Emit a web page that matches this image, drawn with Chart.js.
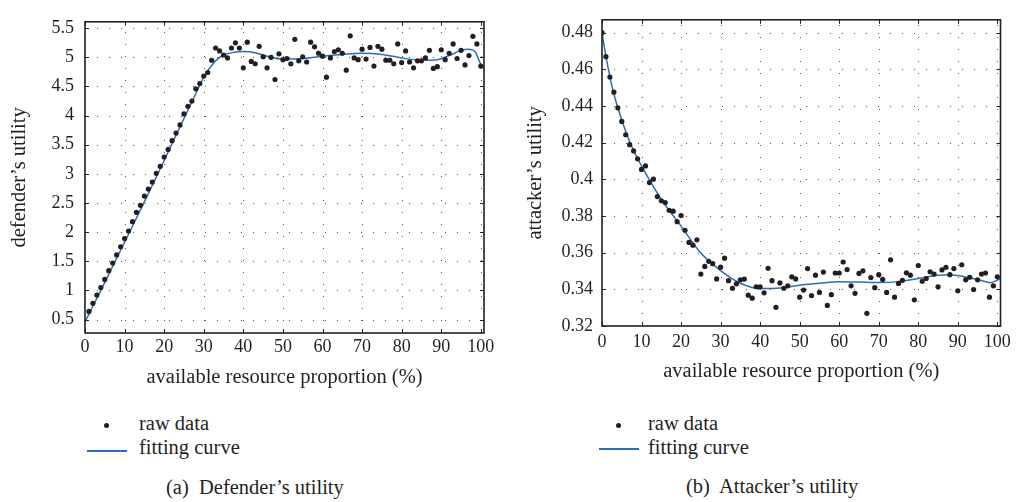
<!DOCTYPE html>
<html lang="en">
<head>
<meta charset="UTF-8" />
<title>Defender's and attacker's utility</title>
<script src="https://cdn.jsdelivr.net/npm/chart.js"></script>
<style>
  body { margin: 0; background: #fff; width: 1017px; height: 502px; position: relative; overflow: hidden;
         font-family: 'Liberation Serif', 'Times New Roman', serif; color: #231f20; }
  canvas { position: absolute; top: 0; }
  #defChart { left: 0; }
  #attChart { left: 505px; }
  .lbl { position: absolute; font-size: 20.5px; line-height: 20px; white-space: pre; }
  .dot { position: absolute; width: 5px; height: 5px; border-radius: 50%; background: #231f20; }
  .ln { position: absolute; height: 1.5px; width: 40px; background: #2b6cb8; }
</style>
</head>
<body>
  <canvas id="defChart" width="500" height="400"></canvas>
  <canvas id="attChart" width="512" height="400"></canvas>

  <!-- legends + captions -->
  <div class="dot" style="left:104px;top:423px"></div>
  <div class="lbl" style="left:139px;top:413px">raw data</div>
  <div class="ln" style="left:87px;top:450px"></div>
  <div class="lbl" style="left:139px;top:437px">fitting curve</div>
  <div class="lbl" style="left:166px;top:477px">(a)  Defender’s utility</div>

  <div class="dot" style="left:616px;top:423px"></div>
  <div class="lbl" style="left:648px;top:413px">raw data</div>
  <div class="ln" style="left:599px;top:448px"></div>
  <div class="lbl" style="left:648px;top:437px">fitting curve</div>
  <div class="lbl" style="left:686px;top:476px">(b)  Attacker’s utility</div>
<script>
  // x ticks shared by both plots
  const xTicks = [0, 10, 20, 30, 40, 50, 60, 70, 80, 90, 100];

  // (a) defender
  const defX = [1,2,3,4,5,6,7,8,9,10,11,12,13,14,15,16,17,18,19,20,21,22,23,24,25,26,27,28,29,30,
    31,32,33,34,35,36,37,38,39,40,41,42,43,44,45,46,47,48,49,50,51,52,53,54,55,56,57,58,59,60,
    61,62,63,64,65,66,67,68,69,70,71,72,73,74,75,76,77,78,79,80,81,82,83,84,85,86,87,88,89,90,
    91,92,93,94,95,96,97,98,99,100];
  const defRaw = [0.64,0.78,0.92,1.05,1.19,1.34,1.47,1.61,1.75,1.89,2.02,2.18,2.34,2.46,2.62,2.74,2.86,3.01,3.13,3.29,
    3.42,3.57,3.70,3.84,4.03,4.16,4.25,4.46,4.55,4.68,4.74,4.95,5.16,5.11,5.04,4.99,5.16,5.25,5.16,4.82,
    5.26,4.93,4.89,5.19,5.01,4.82,5.00,4.62,5.06,4.96,4.98,4.89,5.31,4.94,5.01,4.92,5.26,5.18,5.07,5.02,
    4.66,4.99,5.10,5.13,5.07,4.78,5.37,4.99,4.96,5.14,4.97,5.17,4.85,5.19,5.14,4.95,4.95,4.89,5.23,4.91,
    5.11,4.92,4.82,4.94,4.94,4.99,5.12,4.81,4.84,5.13,4.96,5.07,5.23,4.98,5.12,4.87,5.03,5.36,5.23,4.85];
  const defFitX = [0, 5, 10, 15, 20, 25, 28, 30, 33, 35, 38, 40, 43, 46, 50, 55, 60, 65, 70, 75, 80, 85, 89, 92, 95, 97, 98.5, 100, 100.8];
  const defFitY = [0.46, 1.14, 1.83, 2.52, 3.23, 3.95, 4.38, 4.66, 4.94, 5.04, 5.09, 5.10, 5.08, 5.02, 4.97, 4.98, 5.02, 5.05, 5.07, 5.05, 4.99, 4.95, 4.96, 5.03, 5.12, 5.14, 5.10, 4.88, 4.80];
  const defYTicks = [0.5, 1, 1.5, 2, 2.5, 3, 3.5, 4, 4.5, 5, 5.5];
  const defYLabels = ['0.5', '1', '1.5', '2', '2.5', '3', '3.5', '4', '4.5', '5', '5.5'];

  // (b) attacker
  const attX = [0,1,2,3,4,5,6,7,8,9,10,11,12,13,14,15,16,17,18,19,20,21,22,23,24,25,26,27,28,29,30,
    31,32,33,34,35,36,37,38,39,40,41,42,43,44,45,46,47,48,49,50,51,52,53,54,55,56,57,58,59,60,
    61,62,63,64,65,66,67,68,69,70,71,72,73,74,75,76,77,78,79,80,81,82,83,84,85,86,87,88,89,90,
    91,92,93,94,95,96,97,98,99,100];
  const attRaw = [0.480,0.4669,0.4558,0.4475,0.4390,0.4316,0.4243,0.4189,0.4155,0.4112,0.4054,
    0.4073,0.3982,0.4001,0.3906,0.3883,0.3873,0.3831,0.3826,0.3769,0.3802,
    0.3722,0.3656,0.3641,0.3670,0.3483,0.3525,0.3553,0.3540,0.3457,0.3521,
    0.3570,0.3447,0.3406,0.3430,0.3452,0.3456,0.3368,0.3352,0.3414,0.3414,
    0.3381,0.3515,0.3447,0.3302,0.3435,0.3406,0.3419,0.3468,0.3457,0.3357,
    0.3396,0.3513,0.3366,0.3477,0.3383,0.3494,0.3312,0.3371,0.3489,0.3489,
    0.3549,0.3508,0.3419,0.3378,0.3487,0.3501,0.3269,0.3464,0.3409,0.3480,
    0.3454,0.3383,0.3561,0.3357,0.3432,0.3449,0.3490,0.3477,0.3343,0.3530,
    0.3444,0.3459,0.3496,0.3483,0.3414,0.3506,0.3520,0.3480,0.3513,0.3392,
    0.3534,0.3452,0.3466,0.3399,0.3452,0.3483,0.3489,0.3357,0.3419,0.3468];
  const attFitX = [0, 1, 2, 3, 5, 7.5, 10, 15, 20, 25, 30, 35, 40, 45, 50, 55, 60, 65, 70, 75, 80, 85, 88, 90, 93, 95.7, 98.2, 100, 100.8];
  const attFitY = [0.480, 0.467, 0.456, 0.4465, 0.4324, 0.418, 0.4073, 0.3891, 0.3745, 0.3598, 0.3502, 0.3433, 0.3404, 0.3407, 0.3422, 0.3433, 0.3442, 0.3440, 0.3437, 0.3442, 0.3459, 0.3477, 0.3480, 0.3475, 0.3462, 0.3450, 0.3436, 0.3450, 0.3457];
  const attYTicks = [0.32, 0.34, 0.36, 0.38, 0.4, 0.42, 0.44, 0.46, 0.48];
  const attYLabels = ['0.32', '0.34', '0.36', '0.38', '0.4', '0.42', '0.44', '0.46', '0.48'];

  const INK = '#231f20';
  const BLUE = '#2b6cb8';
  const FONT = "'Liberation Serif', 'Times New Roman', serif";

  // matlab-like box: dotted grid, frame, inward ticks on all four sides
  const frame = {
    id: 'frame',
    beforeDatasetsDraw(chart) {
      const { ctx, chartArea: a, scales: { x, y } } = chart;
      ctx.save();
      ctx.strokeStyle = '#555';
      ctx.lineWidth = 1;
      ctx.setLineDash([1, 11]);
      x.ticks.forEach(t => {
        const px = Math.round(x.getPixelForValue(t.value)) + 0.5;
        if (px - a.left < 2 || a.right - px < 2) return;
        ctx.beginPath(); ctx.moveTo(px, a.bottom); ctx.lineTo(px, a.top); ctx.stroke();
      });
      y.ticks.forEach(t => {
        const py = Math.round(y.getPixelForValue(t.value)) + 0.5;
        if (py - a.top < 2 || a.bottom - py < 2) return;
        ctx.beginPath(); ctx.moveTo(a.left, py); ctx.lineTo(a.right, py); ctx.stroke();
      });
      ctx.restore();
    },
    afterDatasetsDraw(chart) {
      const { ctx, chartArea: a, scales: { x, y } } = chart;
      const len = 4;
      ctx.save();
      ctx.strokeStyle = INK;
      ctx.lineWidth = 1;
      x.ticks.forEach(t => {
        const px = Math.round(x.getPixelForValue(t.value)) + 0.5;
        ctx.beginPath();
        ctx.moveTo(px, a.bottom); ctx.lineTo(px, a.bottom - len);
        ctx.moveTo(px, a.top); ctx.lineTo(px, a.top + len);
        ctx.stroke();
      });
      y.ticks.forEach(t => {
        const py = Math.round(y.getPixelForValue(t.value)) + 0.5;
        ctx.beginPath();
        ctx.moveTo(a.left, py); ctx.lineTo(a.left + len, py);
        ctx.moveTo(a.right, py); ctx.lineTo(a.right - len, py);
        ctx.stroke();
      });
      ctx.lineWidth = 1.6;
      ctx.strokeRect(a.left, a.top, a.right - a.left, a.bottom - a.top);
      ctx.restore();
    }
  };

  function makeChart(id, o) {
    const pts = o.xs.map((v, i) => ({ x: v, y: o.raw[i] }));
    const fit = o.fitX.map((v, i) => ({ x: v, y: o.fitY[i] }));
    return new Chart(document.getElementById(id), {
      type: 'scatter',
      data: {
        datasets: [
          { label: 'raw data', data: pts, pointRadius: 2.6, pointHoverRadius: 2.6, borderWidth: 0,
            pointBackgroundColor: INK, pointBorderColor: INK },
          { label: 'fitting curve', data: fit, showLine: true, pointRadius: 0, borderColor: BLUE,
            borderWidth: 1.5, cubicInterpolationMode: 'monotone', fill: false }
        ]
      },
      options: {
        responsive: false,
        animation: false,
        devicePixelRatio: 1,
        layout: { padding: { top: o.top, right: o.right, left: 0, bottom: 0 } },
        plugins: { legend: { display: false }, tooltip: { enabled: false } },
        scales: {
          x: {
            type: 'linear', min: 0, max: 100.8,
            afterBuildTicks: s => { s.ticks = xTicks.map(v => ({ value: v })); },
            afterFit: s => { s.height = o.xh; },
            grid: { display: false, drawTicks: false },
            border: { display: false },
            ticks: { autoSkip: false, maxRotation: 0, padding: o.xpad, color: INK,
                     font: { family: FONT, size: 18 }, callback: v => String(v) },
            title: { display: true, text: 'available resource proportion (%)', color: INK,
                     font: { family: FONT, size: 20.5 }, padding: { top: 0, bottom: o.xtpad } }
          },
          y: {
            type: 'linear', min: o.ymin, max: o.ymax,
            afterBuildTicks: s => { s.ticks = o.yTicks.map(v => ({ value: v })); },
            afterFit: s => { s.width = o.yw; },
            grid: { display: false, drawTicks: false },
            border: { display: false },
            ticks: { autoSkip: false, padding: o.ypad, color: INK,
                     font: { family: FONT, size: 18 }, callback: (v, i) => o.yLabels[i] },
            title: { display: true, text: o.ytitle, color: INK,
                     font: { family: FONT, size: 20.5 }, padding: { top: o.ytpad, bottom: 0 } }
          }
        }
      },
      plugins: [frame]
    });
  }

  makeChart('defChart', {
    xs: defX, raw: defRaw, fitX: defFitX, fitY: defFitY,
    ymin: 0.27, ymax: 5.61, yTicks: defYTicks, yLabels: defYLabels,
    ytitle: 'defender’s utility',
    top: 9, right: 16, xh: 67, yw: 85, xpad: 3, ypad: 11, xtpad: 10, ytpad: 7
  });

  makeChart('attChart', {
    xs: attX, raw: attRaw, fitX: attFitX, fitY: attFitY,
    ymin: 0.32, ymax: 0.487, yTicks: attYTicks, yLabels: attYLabels,
    ytitle: 'attacker’s utility',
    top: 3, right: 16.5, xh: 74, yw: 97, xpad: 5, ypad: 9, xtpad: 16, ytpad: 18
  });
</script>
</body>
</html>
